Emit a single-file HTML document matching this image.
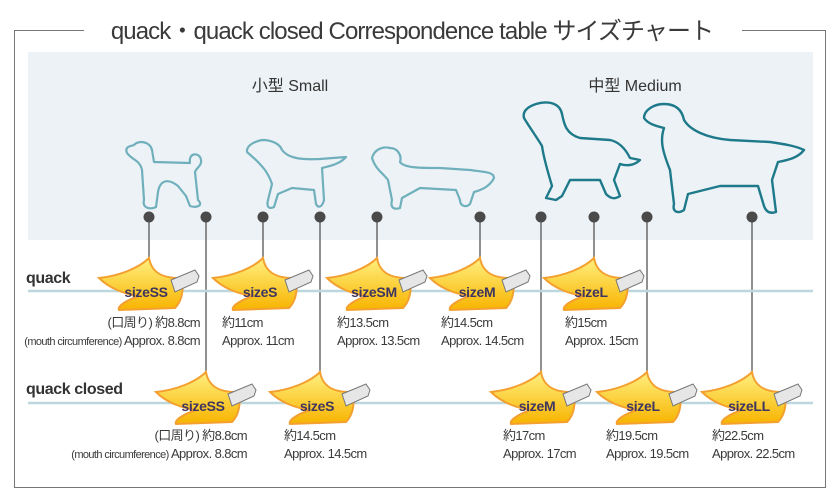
<!DOCTYPE html>
<html><head><meta charset="utf-8"><style>
body{margin:0;background:#fff;}
svg{display:block;font-family:"Liberation Sans","Noto Sans CJK JP",sans-serif;}
.t{font-size:13px;fill:#3a3a3a;letter-spacing:-0.6px;}
.s{font-size:11px;}
.lab{font-size:14px;font-weight:bold;fill:#3e3560;text-anchor:middle;letter-spacing:-0.3px;}
</style></head><body>
<svg width="840" height="500" viewBox="0 0 840 500">
<defs>
<linearGradient id="g" x1="0" y1="0" x2="0" y2="1"><stop offset="0" stop-color="#fff080"/><stop offset="1" stop-color="#f8b400"/></linearGradient>
<g id="bill">
<path d="M50,0 C52,12 60,20 80,20 L84,22 C84,36 82,44 76,50 L20,52 C18,48 28,42 40,38 C25,36 10,30 0,20 C20,18 40,10 50,0 Z" fill="url(#g)" stroke="#f4a030" stroke-width="2"/>
<path d="M72,22 L96,12 L100,18 L98,24 L76,34 Z" fill="#e6e6e6" stroke="#777" stroke-width="1"/>
</g>
</defs>
<rect x="14.5" y="30.5" width="811" height="457" fill="none" stroke="#777"/>
<rect x="84" y="16" width="658" height="28" fill="#fff"/>
<text x="412" y="39" text-anchor="middle" style="font-size:24px;fill:#3a3a3a;letter-spacing:-0.9px">quack・quack closed Correspondence table サイズチャート</text>
<rect x="28" y="52" width="785" height="188" fill="#edf2f6"/>
<text x="290" y="91" text-anchor="middle" style="font-size:16px;fill:#333">小型  Small</text>
<text x="635" y="91" text-anchor="middle" style="font-size:16px;fill:#333">中型  Medium</text>
<g fill="none" stroke="#6fb0bc" stroke-width="2.2" stroke-linejoin="round">
<path d="M127,153 C124,146 132,146 134,145 C138,140 150,141 152,150 L154,162 L190,163 C188,152 200,152 201,160 C202,166 196,168 195,172 L198,200 C204,206 196,208 190,206 L186,196 L178,186 C168,178 160,180 158,192 L156,207 C150,210 142,208 144,200 L142,170 C140,160 132,160 127,153 Z"/>
<path d="M247,152 C246,145 256,141 262,140 C272,140 280,144 282,150 C288,158 300,160 320,159 L346,157 C340,164 330,166 322,168 L324,200 C322,208 318,208 316,204 L314,190 L292,188 L278,194 L274,207 C270,209 266,208 268,200 L272,184 C268,172 262,166 256,160 Z"/>
<path d="M372,158 C374,150 382,146 390,148 C398,148 402,156 400,162 C404,168 420,168 440,168 L470,170 C485,172 494,172 494,178 C490,186 482,190 474,192 L470,204 C466,208 460,206 460,200 L456,190 L420,188 L402,198 L400,208 C394,210 390,208 392,200 L388,180 C382,172 376,170 372,158 Z"/>
</g>
<g fill="none" stroke="#1e7a8a" stroke-width="2.4" stroke-linejoin="round">
<path d="M524,118 C522,110 530,106 536,104 C550,100 560,104 562,114 C564,124 566,134 580,138 L610,140 C620,142 626,150 630,158 L640,160 C634,166 626,166 620,164 L614,180 L620,196 C614,200 610,198 606,194 L600,180 L570,180 L562,196 L556,200 L546,198 L552,186 C548,172 544,160 542,146 C536,136 530,128 524,118 Z"/>
<path d="M644,118 C644,110 654,104 664,104 C676,104 682,110 684,120 C690,130 706,138 730,140 L770,142 C784,144 796,146 804,150 C798,158 788,160 778,162 L772,180 L776,212 C770,214 766,212 764,206 L758,186 L720,186 L688,194 L684,210 C678,214 672,212 674,204 L670,170 C662,150 660,140 664,128 C656,126 648,124 644,118 Z"/>
</g>
<g stroke="#555" stroke-width="1.3">
<line x1="149" y1="217" x2="149" y2="260"/><line x1="263" y1="217" x2="263" y2="260"/><line x1="377" y1="217" x2="377" y2="260"/><line x1="480" y1="217" x2="480" y2="260"/><line x1="594" y1="217" x2="594" y2="260"/>
<line x1="206" y1="217" x2="206" y2="373"/><line x1="320" y1="217" x2="320" y2="373"/><line x1="541" y1="217" x2="541" y2="373"/><line x1="647" y1="217" x2="647" y2="373"/><line x1="752" y1="217" x2="752" y2="373"/>
</g>
<g fill="#4a4a4a"><circle cx="149" cy="217" r="5.5"/><circle cx="206" cy="217" r="5.5"/><circle cx="263" cy="217" r="5.5"/><circle cx="320" cy="217" r="5.5"/><circle cx="377" cy="217" r="5.5"/><circle cx="480" cy="217" r="5.5"/><circle cx="541" cy="217" r="5.5"/><circle cx="594" cy="217" r="5.5"/><circle cx="647" cy="217" r="5.5"/><circle cx="752" cy="217" r="5.5"/></g>
<line x1="28" y1="291" x2="813" y2="291" stroke="#bcd8de" stroke-width="2.5"/>
<line x1="28" y1="403" x2="813" y2="403" stroke="#bcd8de" stroke-width="2.5"/>
<text x="26" y="283" style="font-size:16px;font-weight:bold;fill:#333;letter-spacing:-0.4px">quack</text>
<text x="26" y="394" style="font-size:16px;font-weight:bold;fill:#333;letter-spacing:-0.4px">quack closed</text>
<use href="#bill" x="99" y="258"/><use href="#bill" x="213" y="258"/><use href="#bill" x="327" y="258"/><use href="#bill" x="430" y="258"/><use href="#bill" x="544" y="258"/>
<use href="#bill" x="156" y="372"/><use href="#bill" x="270" y="372"/><use href="#bill" x="491" y="372"/><use href="#bill" x="597" y="372"/><use href="#bill" x="702" y="372"/>
<text class="lab" x="146" y="297">sizeSS</text><text class="lab" x="260" y="297">sizeS</text><text class="lab" x="374" y="297">sizeSM</text><text class="lab" x="477" y="297">sizeM</text><text class="lab" x="591" y="297">sizeL</text>
<text class="lab" x="203" y="411">sizeSS</text><text class="lab" x="317" y="411">sizeS</text><text class="lab" x="537" y="411">sizeM</text><text class="lab" x="643" y="411">sizeL</text><text class="lab" x="749" y="411">sizeLL</text>
<g class="t">
<text x="200" y="327" text-anchor="end">(口周り) 約8.8cm</text>
<text x="200" y="345" text-anchor="end"><tspan class="s">(mouth circumference)</tspan> Approx. 8.8cm</text>
<text x="222" y="327">約11cm</text><text x="222" y="345">Approx. 11cm</text>
<text x="337" y="327">約13.5cm</text><text x="337" y="345">Approx. 13.5cm</text>
<text x="441" y="327">約14.5cm</text><text x="441" y="345">Approx. 14.5cm</text>
<text x="565" y="327">約15cm</text><text x="565" y="345">Approx. 15cm</text>
<text x="247" y="440" text-anchor="end">(口周り) 約8.8cm</text>
<text x="247" y="458" text-anchor="end"><tspan class="s">(mouth circumference)</tspan> Approx. 8.8cm</text>
<text x="284" y="440">約14.5cm</text><text x="284" y="458">Approx. 14.5cm</text>
<text x="503" y="440">約17cm</text><text x="503" y="458">Approx. 17cm</text>
<text x="606" y="440">約19.5cm</text><text x="606" y="458">Approx. 19.5cm</text>
<text x="712" y="440">約22.5cm</text><text x="712" y="458">Approx. 22.5cm</text>
</g>
</svg>
</body></html>
